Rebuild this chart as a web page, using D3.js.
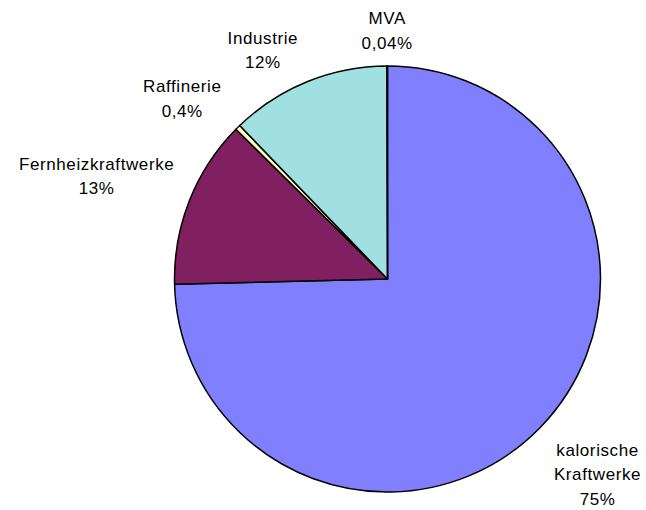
<!DOCTYPE html>
<html>
<head>
<meta charset="utf-8">
<script src="https://cdn.jsdelivr.net/npm/d3@7"></script>
<style>
  body { margin: 0; background: #fff; }
  text { font-family: "Liberation Sans", Arial, sans-serif; font-size: 17px; letter-spacing: 0.6px; fill: #000; }
</style>
</head>
<body>
<div id="chart"></div>
<script>
// Daten (Anteile in %)
const names = ["kalorische Kraftwerke", "Fernheizkraftwerke", "Raffinerie", "Industrie", "MVA"];
const labelLines = [["kalorische", "Kraftwerke"], ["Fernheizkraftwerke"], ["Raffinerie"], ["Industrie"], ["MVA"]];
const values = [74.6, 12.8, 0.4, 12.16, 0.04];
const pctLabels = ["75%", "13%", "0,4%", "12%", "0,04%"];
const colors = ["#8080FF", "#802060", "#FFFFC0", "#A0E0E0", "#600060"];

const width = 646;
const height = 510;
const cx = 387.5, cy = 279, r = 213;

const svg = d3.select("#chart").append("svg")
  .attr("width", width)
  .attr("height", height);

const pie = d3.pie().sort(null).value((d) => d.value);
const arc = d3.arc().innerRadius(0).outerRadius(r);

const data = names.map((n, i) => ({
  name: n, value: values[i], lines: labelLines[i], pct: pctLabels[i], color: colors[i]
}));
const arcs = pie(data);

const g = svg.append("g").attr("transform", `translate(${cx},${cy})`);

g.selectAll("path")
  .data(arcs)
  .join("path")
  .attr("d", arc)
  .attr("fill", (d) => d.data.color)
  .attr("stroke", "#000")
  .attr("stroke-width", 1.5)
  .attr("stroke-linejoin", "round");

// Beschriftungen ausserhalb, Box an Richtung ausgerichtet
const gap = 20;
const lineH = 24.5;
const nudge = {
  "kalorische Kraftwerke": [12, 8],
  Fernheizkraftwerke: [-2, -7],
  Raffinerie: [-14, 4],
  Industrie: [-24, 11],
  MVA: [0, 10]
};

arcs.forEach((d) => {
  const a = (d.startAngle + d.endAngle) / 2;
  const dx = Math.sin(a), dy = -Math.cos(a);
  const lines = d.data.lines.concat([d.data.pct]);
  const t = svg.append("text").attr("text-anchor", "middle");
  lines.forEach((l, i) => {
    t.append("tspan").attr("x", 0).attr("dy", i === 0 ? 0 : lineH).text(l);
  });
  const bb = t.node().getBBox();
  const w = bb.width, h = lines.length * lineH;
  const n = nudge[d.data.name] || [0, 0];
  const bx = cx + dx * (r + gap) + dx * w / 2 + n[0];
  const by = cy + dy * (r + gap) + dy * h / 2 + n[1];
  // erste Grundlinie so, dass Block vertikal zentriert ist
  const y0 = by - h / 2 + lineH * 0.7;
  t.attr("transform", `translate(${bx},${y0})`);
});
</script>
</body>
</html>
